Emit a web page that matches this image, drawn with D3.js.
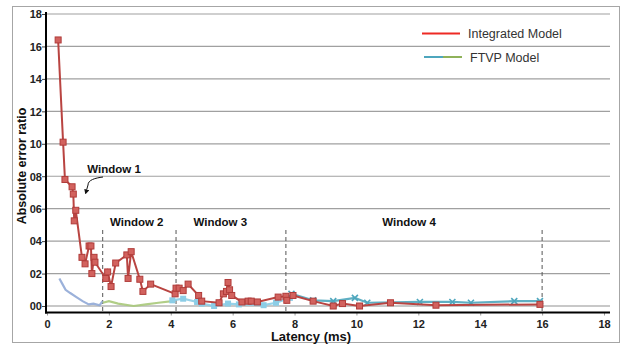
<!DOCTYPE html>
<html>
<head>
<meta charset="utf-8">
<script src="https://cdnjs.cloudflare.com/ajax/libs/d3/7.8.5/d3.min.js"></script>
<style>
  body { margin: 0; background: #fff; }
  text { font-family: "Liberation Sans", Arial, sans-serif; }
</style>
</head>
<body>
<div class="chart"></div>
<script>
// chart size and frame
var svgWidth = 636;
var svgHeight = 345;

// --- data ---
var xTicks = [0, 2, 4, 6, 8, 10, 12, 14, 16, 18];
var yTicks = [0, 2, 4, 6, 8, 10, 12, 14, 16, 18];
var yTickLabels = ["00", "02", "04", "06", "08", "10", "12", "14", "16", "18"];

// Integrated model (red, square markers): [latency, error]
var integratedX = [0.36, 0.52, 0.58, 0.81, 0.85, 0.88, 0.93, 1.13, 1.23, 1.36, 1.42, 1.45, 1.52, 1.55,
  1.9, 1.96, 2.07, 2.22, 2.58, 2.62, 2.72, 3.0, 3.1, 3.35, 4.14, 4.17, 4.27, 4.4, 4.56, 4.9, 5.0,
  5.56, 5.7, 5.8, 5.85, 5.9, 5.97, 6.3, 6.5, 6.6, 6.8, 7.47, 7.72, 7.75, 7.95, 8.6, 9.25, 9.55,
  10.1, 11.1, 12.57, 15.93];
var integratedY = [16.4, 10.1, 7.8, 7.35, 6.9, 5.25, 5.9, 3.0, 2.6, 3.7, 3.7, 2.0, 3.0, 2.7,
  1.7, 2.1, 1.2, 2.65, 3.15, 1.7, 3.35, 1.65, 0.9, 1.35, 0.75, 1.1, 1.1, 0.95, 1.35, 0.65, 0.3,
  0.2, 0.75, 0.9, 1.45, 1.0, 0.65, 0.25, 0.3, 0.3, 0.25, 0.55, 0.6, 0.35, 0.65, 0.3, 0.0, 0.15,
  0.0, 0.2, 0.05, 0.1];

// FTVP model, one piece per window
var ftvp1X = [0.4, 0.5, 0.6, 0.75, 0.95, 1.15, 1.35, 1.5, 1.7, 1.8];
var ftvp1Y = [1.7, 1.35, 1.0, 0.8, 0.55, 0.3, 0.1, 0.15, 0.05, 0.3];
var ftvp2X = [1.8, 2.0, 2.3, 2.8, 3.2, 3.6, 4.05];
var ftvp2Y = [0.2, 0.3, 0.15, 0.0, 0.1, 0.2, 0.3];
var ftvp3X = [4.05, 4.4, 4.85, 5.0, 5.4, 5.85, 6.2, 7.0, 7.4, 7.85];
var ftvp3Y = [0.35, 0.45, 0.25, 0.15, 0.0, 0.15, 0.1, 0.05, 0.2, 0.5];
var ftvp4X = [7.9, 8.6, 9.25, 9.95, 10.35, 12.05, 13.1, 13.7, 15.1, 15.93];
var ftvp4Y = [0.75, 0.35, 0.3, 0.5, 0.2, 0.25, 0.25, 0.2, 0.3, 0.3];

// window boundaries and labels
var windowLines = [1.8, 4.17, 7.72, 16.0];
var windowLabels = ["Window 2", "Window 3", "Window 4"];
var windowLabelX = [2.9, 5.6, 11.7];

var svg = d3.select(".chart").append("svg")
  .attr("width", svgWidth)
  .attr("height", svgHeight);

// outer frame
svg.append("rect")
  .attr("x", 12.5).attr("y", 6.5)
  .attr("width", 607).attr("height", 336)
  .attr("fill", "none").attr("stroke", "#a6a6a6");

var xScale = d3.scaleLinear().domain([0, 18]).range([47, 604]);
var yScale = d3.scaleLinear().domain([-0.4, 18]).range([312.5, 14]);

// gridlines
svg.append("g").selectAll("line")
  .data(yTicks).enter().append("line")
  .attr("x1", 46).attr("x2", 610)
  .attr("y1", function(d) { return yScale(d); })
  .attr("y2", function(d) { return yScale(d); })
  .attr("stroke", function(d) { return d === 0 ? "#c8c8c8" : "#a0a0a0"; })
  .attr("stroke-width", function(d) { return d === 0 ? 2 : 1.2; });

// axes
var leftAxis = d3.axisLeft(yScale).tickValues(yTicks).tickSize(4)
  .tickFormat(function(d, i) { return yTickLabels[i]; });
var gy = svg.append("g").attr("transform", "translate(46,0)").call(leftAxis);
gy.select(".domain").remove();
gy.selectAll("line").attr("stroke", "#444");
gy.selectAll("text").attr("font-size", 11).attr("font-weight", "bold")
  .attr("fill", "#222").attr("x", -4).attr("dy", "0.35em");

var bottomAxis = d3.axisBottom(xScale).tickValues(xTicks).tickSize(3);
var gx = svg.append("g").attr("transform", "translate(0,312.5)").call(bottomAxis);
gx.select(".domain").remove();
gx.selectAll("line").attr("stroke", "#999");
gx.selectAll("text").attr("font-size", 11).attr("font-weight", "bold")
  .attr("fill", "#222").attr("y", 8);

// axis lines (black)
svg.append("line").attr("x1", 46).attr("x2", 46).attr("y1", 12).attr("y2", 313.5)
  .attr("stroke", "#000").attr("stroke-width", 2);
svg.append("line").attr("x1", 45).attr("x2", 610).attr("y1", 312.5).attr("y2", 312.5)
  .attr("stroke", "#000").attr("stroke-width", 2);

// axis titles
svg.append("text")
  .attr("transform", "translate(26,166) rotate(-90)")
  .attr("text-anchor", "middle")
  .attr("font-size", 12.5).attr("font-weight", "bold").attr("fill", "#111")
  .text("Absolute error ratio");
svg.append("text")
  .attr("x", 311).attr("y", 341)
  .attr("text-anchor", "middle")
  .attr("font-size", 13).attr("font-weight", "bold").attr("fill", "#111")
  .text("Latency (ms)");

// window dividers
svg.append("g").selectAll("line")
  .data(windowLines).enter().append("line")
  .attr("x1", function(d) { return xScale(d); })
  .attr("x2", function(d) { return xScale(d); })
  .attr("y1", 230).attr("y2", 312)
  .attr("stroke", "#555").attr("stroke-width", 1)
  .attr("stroke-dasharray", "4,3");

svg.append("g").selectAll("text")
  .data(windowLabels).enter().append("text")
  .attr("x", function(d, i) { return xScale(windowLabelX[i]); })
  .attr("y", 226)
  .attr("text-anchor", "middle")
  .attr("font-size", 11.5).attr("font-weight", 600).attr("fill", "#111")
  .text(function(d) { return d; });

svg.append("text").attr("x", 114).attr("y", 173)
  .attr("text-anchor", "middle").attr("font-size", 11.5).attr("font-weight", 600).attr("fill", "#111")
  .text("Window 1");

svg.append("defs").append("marker")
  .attr("id", "arr").attr("viewBox", "0 0 10 10")
  .attr("refX", 5).attr("refY", 5)
  .attr("markerWidth", 5).attr("markerHeight", 5)
  .attr("orient", "auto")
  .append("path").attr("d", "M0,0 L10,5 L0,10 z").attr("fill", "#111");
svg.append("path")
  .attr("d", "M103,177 C95,178 88,180 88,185 L86,192")
  .attr("fill", "none").attr("stroke", "#111").attr("stroke-width", 1)
  .attr("marker-end", "url(#arr)");

// series lines
var line = d3.line()
  .x(function(d) { return xScale(d[0]); })
  .y(function(d) { return yScale(d[1]); });

function pairs(xs, ys) {
  return xs.map(function(x, i) { return [x, ys[i]]; });
}

var ftvpPieces = [
  { data: pairs(ftvp1X, ftvp1Y), color: "#90a9d6" },
  { data: pairs(ftvp2X, ftvp2Y), color: "#a9c97a" },
  { data: pairs(ftvp3X, ftvp3Y), color: "#8ccde6" },
  { data: pairs(ftvp4X, ftvp4Y), color: "#4ea6bd" }
];

ftvpPieces.forEach(function(p) {
  svg.append("path")
    .datum(p.data)
    .attr("d", line)
    .attr("fill", "none")
    .attr("stroke", p.color)
    .attr("stroke-width", 2.2)
    .attr("stroke-opacity", 0.9);
});

// light blue square markers (window 3)
svg.append("g").selectAll("rect")
  .data(ftvpPieces[2].data).enter().append("rect")
  .attr("x", function(d) { return xScale(d[0]) - 3; })
  .attr("y", function(d) { return yScale(d[1]) - 3; })
  .attr("width", 6).attr("height", 6)
  .attr("fill", "#8ccde6");

// teal x markers (window 4)
svg.append("g").selectAll("path")
  .data(ftvpPieces[3].data).enter().append("path")
  .attr("transform", function(d) { return "translate(" + xScale(d[0]) + "," + yScale(d[1]) + ")"; })
  .attr("d", "M-3,-3 L3,3 M-3,3 L3,-3")
  .attr("stroke", "#4ea6bd").attr("stroke-width", 1.6);

var integrated = pairs(integratedX, integratedY);
svg.append("path")
  .datum(integrated)
  .attr("d", line)
  .attr("fill", "none")
  .attr("stroke", "#b94441")
  .attr("stroke-width", 2);

svg.append("g").selectAll("rect")
  .data(integrated).enter().append("rect")
  .attr("x", function(d) { return xScale(d[0]) - 3; })
  .attr("y", function(d) { return yScale(d[1]) - 3; })
  .attr("width", 6).attr("height", 6)
  .attr("fill", "#d2625e")
  .attr("stroke", "#b03c3a").attr("stroke-width", 1);

// legend
svg.append("line").attr("x1", 422).attr("x2", 460).attr("y1", 33.5).attr("y2", 33.5)
  .attr("stroke", "#ee2a24").attr("stroke-width", 2);
svg.append("text").attr("x", 468).attr("y", 38)
  .attr("font-size", 12.5).attr("fill", "#333").text("Integrated Model");
svg.append("line").attr("x1", 424).attr("x2", 443).attr("y1", 57).attr("y2", 57)
  .attr("stroke", "#4ea6bd").attr("stroke-width", 2);
svg.append("line").attr("x1", 443).attr("x2", 462).attr("y1", 57).attr("y2", 57)
  .attr("stroke", "#8fb25a").attr("stroke-width", 2);
svg.append("text").attr("x", 470).attr("y", 62)
  .attr("font-size", 12.5).attr("fill", "#333").text("FTVP Model");
</script>
</body>
</html>
